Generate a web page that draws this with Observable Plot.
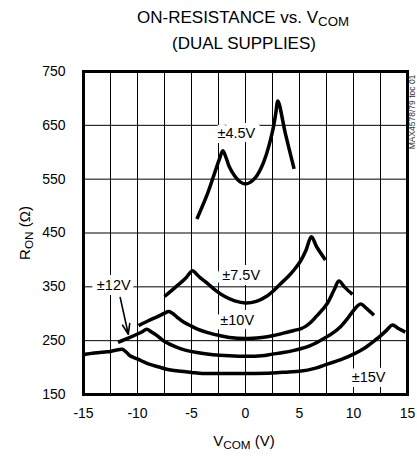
<!DOCTYPE html>
<html>
<head>
<meta charset="utf-8">
<script src="https://cdn.jsdelivr.net/npm/d3@7"></script>
<script src="https://cdn.jsdelivr.net/npm/@observablehq/plot@0.6"></script>
<style>
  html, body { margin: 0; padding: 0; background: white; }
  #chart svg { display: block; }
</style>
</head>
<body>
<div id="chart"></div>
<script>
// ---- Data ----
const seriesNames = ["±4.5V", "±7.5V", "±10V", "±12V", "±15V"];

const vcom45 = [-4.5, -3.5, -2.8, -2.4, -2.1, -1.8, -1.5, -1.0, -0.5, 0, 0.5, 1.0, 1.5, 1.9, 2.3, 2.6, 2.8, 3.0, 3.7, 4.5];
const ron45  = [476, 524, 565, 588, 603, 590, 573, 556, 545, 541, 545, 555, 573, 594, 622, 648, 672, 695, 634, 569];

const vcom75 = [-7.5, -6.5, -5.5, -4.9, -4.5, -4.2, -3.5, -2.8, -2.0, -1.0, 0, 1.0, 2.0, 2.5, 3.2, 4.0, 4.6, 5.1, 5.6, 6.1, 6.6, 7.4];
const ron75  = [332, 349, 367, 380, 373, 367, 356, 344, 333, 324, 320, 323, 333, 341, 355, 370, 384, 398, 418, 443, 424, 400];

const vcom10 = [-9.9, -9, -8, -7.5, -7.1, -6.7, -6.3, -5.7, -5, -4.5, -3.5, -2.5, -1.5, 0, 1.5, 2.5, 3.5, 4.5, 5.1, 5.6, 6.1, 6.6, 7.1, 7.6, 8.2, 8.65, 9.2, 9.9];
const ron10  = [278, 287, 296, 301, 304, 300, 293, 284, 277, 272, 265, 260, 256, 254, 256, 259, 264, 269, 272, 277, 285, 296, 307, 320, 344, 361, 349, 336];

const vcom12 = [-11.8, -10.7, -9.6, -9.15, -8.7, -8.1, -7.6, -6.4, -5.5, -4.5, -3, -1.5, 0, 1.5, 2.5, 3.5, 4.5, 5.1, 6.0, 6.9, 8.0, 8.8, 9.4, 10.0, 10.65, 11.2, 11.9];
const ron12  = [247, 256, 266, 271, 266, 258, 250, 238, 232, 228, 224, 222, 221, 222, 225, 228, 232, 235, 241, 250, 263, 276, 290, 306, 318, 310, 297];

const vcom15 = [-15, -14, -13, -12.5, -11.8, -11.4, -11, -10.7, -10, -9, -8, -7.3, -6, -5, -4, -2.5, 0, 2.5, 4, 5, 6.5, 7.5, 9, 10, 11, 12, 12.5, 13.1, 13.6, 14.2, 14.8];
const ron15  = [224, 227, 229, 230, 233, 234, 228, 222, 216, 207, 201, 197, 193, 191, 189, 189, 189, 190, 192, 193, 199, 206, 216, 225, 236, 251, 259, 270, 279, 272, 266];

const labelText = ["±4.5V", "±7.5V", "±10V", "±12V", "±15V"];
const labelV    = [-0.85, -0.4, -0.77, -12.2, 11.4];
const labelR    = [636, 371, 288, 352, 182];

const arrowFromV = -11.6, arrowFromR = 330, arrowToV = -10.85, arrowToR = 262;

const xTicks = [-15, -10, -5, 0, 5, 10, 15];
const yTicks = [150, 250, 350, 450, 550, 650, 750];
const xGrid  = [-12.5, -10, -7.5, -5, -2.5, 0, 2.5, 5, 7.5, 10, 12.5];
const yGrid  = [250, 350, 450, 550, 650];

// ---- Build table ----
const allV = [vcom45, vcom75, vcom10, vcom12, vcom15];
const allR = [ron45, ron75, ron10, ron12, ron15];
const rows = [];
seriesNames.forEach((s, i) => {
  allV[i].forEach((v, j) => rows.push({series: s, v, r: allR[i][j]}));
});
const labels = labelText.map((t, i) => ({text: t, v: labelV[i], r: labelR[i]}));
const arrows = [{x1: arrowFromV, y1: arrowFromR, x2: arrowToV, y2: arrowToR}];

const FONT = "'Liberation Sans', Arial, Helvetica, sans-serif";

const chart = Plot.plot({
  width: 417,
  height: 457,
  marginLeft: 83,
  marginRight: 10,
  marginTop: 71,
  marginBottom: 63,
  x: {domain: [-15, 15]},
  y: {domain: [150, 750]},
  style: {fontFamily: FONT, fontSize: "14px", color: "black", background: "white"},
  marks: [
    Plot.gridX(xGrid, {stroke: "black", strokeOpacity: 1, strokeWidth: 1}),
    Plot.gridY(yGrid, {stroke: "black", strokeOpacity: 1, strokeWidth: 1}),
    Plot.axisX(xTicks, {tickSize: 0, tickPadding: 14, tickFormat: d => String(d), label: null, fontSize: 14}),
    Plot.axisY(yTicks, {tickSize: 0, tickPadding: 18, tickFormat: d => String(d), label: null, fontSize: 14}),
    Plot.text(labels, {x: "v", y: "r", text: "text", fill: "black", stroke: "white", strokeWidth: 10, fontSize: 14.5}),
    Plot.line(rows, {x: "v", y: "r", z: "series", curve: "catmull-rom", stroke: "black", strokeWidth: 3.5, strokeLinejoin: "round", strokeLinecap: "butt"}),
    Plot.arrow(arrows, {x1: "x1", y1: "y1", x2: "x2", y2: "y2", stroke: "black", strokeWidth: 1.6, headLength: 10, headAngle: 40}),
    Plot.frame({stroke: "black", strokeWidth: 3})
  ]
});

document.getElementById("chart").appendChild(chart);

// ---- Titles and axis labels as real text ----
const svg = d3.select(chart);
const addText = (x, y, size, parts, rotate) => {
  const t = svg.append("text")
    .attr("text-anchor", "middle")
    .attr("font-family", FONT)
    .attr("font-size", size)
    .attr("fill", "black");
  if (rotate) t.attr("transform", `translate(${x},${y}) rotate(-90)`);
  else t.attr("x", x).attr("y", y);
  parts.forEach(p => {
    const ts = t.append("tspan").text(p.t);
    if (p.sub) ts.attr("font-size", size * 0.78).attr("dy", size * 0.2);
    if (p.back) ts.attr("dy", -size * 0.2);
  });
  return t;
};

addText(243, 23, 17, [{t: "ON-RESISTANCE vs. V"}, {t: "COM", sub: true}]);
addText(244, 49, 17, [{t: "(DUAL SUPPLIES)"}]);
addText(244, 446, 15, [{t: "V"}, {t: "COM", sub: true}, {t: " (V)", back: true}]);
addText(30, 233, 15, [{t: "R"}, {t: "ON", sub: true}, {t: " (Ω)", back: true}], true);
svg.append("text")
  .attr("transform", "translate(415,112) rotate(-90)")
  .attr("text-anchor", "middle")
  .attr("font-family", FONT)
  .attr("font-size", 8.5)
  .attr("fill", "#333")
  .text("MAX4578/79 toc 01");
</script>
</body>
</html>
